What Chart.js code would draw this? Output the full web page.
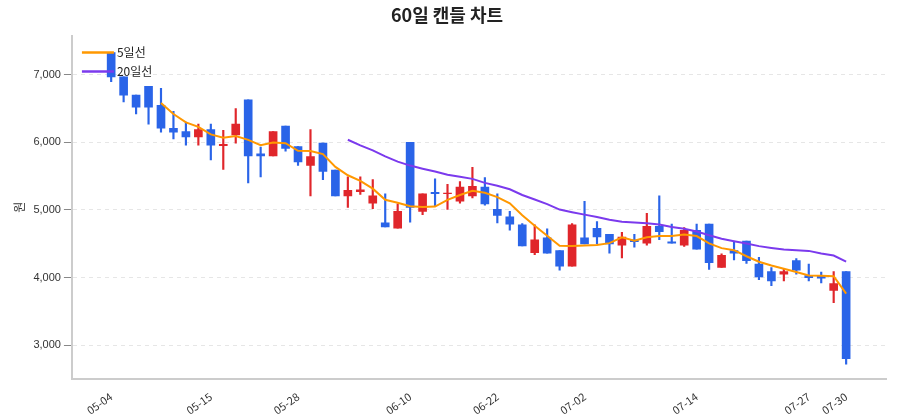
<!DOCTYPE html>
<html><head><meta charset="utf-8">
<script src="https://cdn.jsdelivr.net/npm/chart.js@4"></script>
<style>body{margin:0;background:#fff}#wrap{width:900px;height:420px}</style>
</head><body><div id="wrap"><canvas id="c"></canvas></div>
<script>
// 날짜 (60 거래일)
const dates = ['05-04','05-06','05-07','05-08','05-11','05-12','05-13','05-14','05-15','05-18',
  '05-19','05-20','05-21','05-22','05-26','05-28','05-29','06-01','06-02','06-03',
  '06-04','06-05','06-08','06-09','06-10','06-11','06-12','06-15','06-16','06-17',
  '06-18','06-22','06-23','06-24','06-25','06-26','06-29','06-30','07-02','07-03',
  '07-06','07-07','07-08','07-09','07-10','07-11','07-13','07-14','07-15','07-16',
  '07-17','07-20','07-21','07-22','07-23','07-24','07-27','07-28','07-29','07-30'];
const shownTicks = ['05-04','05-15','05-28','06-10','06-22','07-02','07-14','07-27','07-30'];
const yTicks = [3000, 4000, 5000, 6000, 7000];
const opens  = [7330,6970,6700,6830,6550,6210,6160,6080,6190,5950,6110,6630,5830,5800,6240,5940,5660,5990,5590,5210,
  5270,5100,4810,4730,6000,4980,5260,5240,5130,5210,5340,5010,4900,4780,4370,4590,4400,4170,4590,4730,
  4640,4480,4560,4510,4760,4530,4480,4700,4790,4150,4400,4540,4200,4090,4050,4250,4030,4020,3810,4090];
const closes = [6970,6700,6520,6520,6210,6150,6080,6190,5960,5970,6270,5800,5800,6160,5910,5710,5790,5570,5210,5290,
  5300,5210,4750,4980,5040,5240,5240,5250,5340,5350,5090,4920,4790,4470,4560,4360,4170,4780,4500,4600,
  4500,4600,4530,4760,4680,4510,4700,4420,4220,4330,4360,4250,4010,3950,4090,4110,4000,3990,3910,2800];
const highs  = [7330,6970,6700,6830,6800,6460,6300,6270,6270,6180,6500,6630,5930,6160,6240,5940,6190,5990,5590,5490,
  5490,5450,5240,5090,6000,5240,5460,5380,5420,5630,5480,5240,4980,4800,4780,4720,4400,4800,5130,4830,
  4640,4670,4640,4950,5210,4790,4740,4790,4790,4350,4520,4540,4300,4150,4130,4280,4200,4080,4090,4090];
const lows   = [6900,6600,6420,6270,6150,6050,5960,5960,5740,5600,5990,5400,5490,5800,5870,5660,5210,5450,5210,5040,
  5230,5020,4750,4730,4820,4930,5060,5010,5100,5180,5070,4810,4700,4470,4340,4360,4110,4170,4500,4500,
  4360,4290,4450,4480,4560,4510,4460,4420,4120,4150,4260,4210,3970,3880,3950,4050,3950,3920,3630,2720];

const UP = '#e0262b', DOWN = '#2a64e8';
const FONT = '"Noto Sans CJK KR", "Noto Sans", sans-serif';
function ma(n) {
  return closes.map((_, i) => {
    if (i < n - 1) return { x: i, y: null };
    let s = 0;
    for (let k = i - n + 1; k <= i; k++) s += closes[k];
    return { x: i, y: s / n };
  });
}
const colors = opens.map((o, i) => closes[i] >= o ? UP : DOWN);

// 범례 (차트 안쪽 좌상단)
const legendPlugin = {
  id: 'maLegend',
  afterDatasetsDraw(chart) {
    const { ctx, chartArea } = chart;
    const items = [['5일선', '#ff9800'], ['20일선', '#7b3aed']];
    ctx.save();
    ctx.font = '12px ' + FONT;
    ctx.textBaseline = 'middle';
    items.forEach(([t, c], i) => {
      const y = chartArea.top + 17 + i * 19;
      ctx.strokeStyle = c; ctx.lineWidth = 2.5;
      ctx.beginPath(); ctx.moveTo(chartArea.left + 10, y); ctx.lineTo(chartArea.left + 42, y); ctx.stroke();
      ctx.fillStyle = '#222'; ctx.fillText(t, chartArea.left + 45, y);
    });
    ctx.restore();
  }
};

new Chart(document.getElementById('c'), {
  data: {
    datasets: [
      { type: 'line', data: ma(5), borderColor: '#ff9800', borderWidth: 2, pointRadius: 0, tension: 0, order: 0 },
      { type: 'line', data: ma(20), borderColor: '#7b3aed', borderWidth: 2, pointRadius: 0, tension: 0, order: 0 },
      { type: 'bar', data: opens.map((o, i) => ({ x: i, y: [o, closes[i]] })), backgroundColor: colors, barThickness: 8, grouped: false, order: 1 },
      { type: 'bar', data: lows.map((l, i) => ({ x: i, y: [l, highs[i]] })), backgroundColor: colors, barThickness: 1.5, grouped: false, order: 2 }
    ]
  },
  plugins: [legendPlugin],
  options: {
    responsive: true,
    maintainAspectRatio: false,
    animation: false,
    layout: { padding: { left: 8, right: 14, top: 4 } },
    plugins: {
      legend: { display: false },
      tooltip: { enabled: false },
      title: { display: true, text: '60일 캔들 차트', color: '#222',
        font: { size: 18, weight: 'bold', family: FONT }, padding: { bottom: 10 } }
    },
    scales: {
      x: {
        type: 'linear', min: -3.15, max: 62.2, offset: false,
        grid: { display: false },
        border: { color: '#ccc', width: 2 },
        afterBuildTicks: s => { s.ticks = shownTicks.map(d => ({ value: dates.indexOf(d) })); },
        ticks: {
          autoSkip: false, maxRotation: 35, minRotation: 35, color: '#333',
          font: { size: 11, family: FONT },
          callback: v => dates[v] || ''
        }
      },
      y: {
        min: 2500, max: 7580,
        title: { display: true, text: '원', color: '#333', font: { size: 12, family: FONT } },
        border: { color: '#ccc', width: 2, dash: [4, 4] },
        grid: { color: '#e6e6e6', tickColor: '#888' },
        afterBuildTicks: s => { s.ticks = yTicks.map(v => ({ value: v })); },
        ticks: { color: '#333', font: { size: 11 }, callback: v => v.toLocaleString('en-US') }
      }
    }
  }
});
</script></body></html>
